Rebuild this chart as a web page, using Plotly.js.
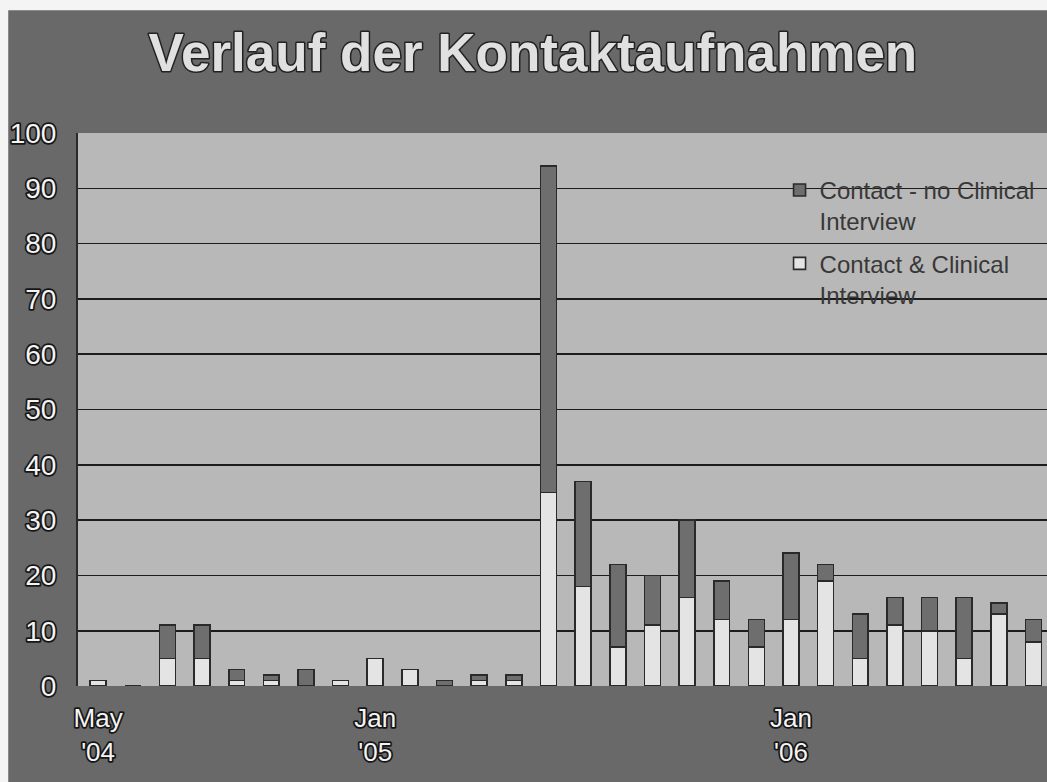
<!DOCTYPE html>
<html>
<head>
<meta charset="utf-8">
<script src="https://cdn.plot.ly/plotly-3.0.1.min.js"></script>
<style>
  html, body { margin: 0; padding: 0; background: #696969; }
  #chart { width: 1047px; height: 782px; }
  #chart .xtick text, #chart .ytick text {
    paint-order: stroke; stroke: #161616; stroke-width: 3.5px; stroke-linejoin: round;
  }
  #chart .gtitle {
    paint-order: stroke; stroke: #222222; stroke-width: 3px; stroke-linejoin: round;
  }
</style>
</head>
<body>
<div id="chart"></div>
<script>
// Months May 2004 – Aug 2006
var months = ["2004-05","2004-06","2004-07","2004-08","2004-09","2004-10","2004-11","2004-12",
              "2005-01","2005-02","2005-03","2005-04","2005-05","2005-06","2005-07","2005-08",
              "2005-09","2005-10","2005-11","2005-12","2006-01","2006-02","2006-03","2006-04",
              "2006-05","2006-06","2006-07","2006-08"];

// Contact & Clinical Interview (white, bottom segment)
var contactClinical = [1,0,5,5,1,1,0,1, 5,3,0,1,1,35,18,7, 11,16,12,7,12,19,5,11, 10,5,13,8];

// Contact - no Clinical Interview (dark, top segment)
var contactNoClinical = [0,0,6,6,2,1,3,0, 0,0,1,1,1,59,19,15, 9,14,7,5,12,3,8,5, 6,11,2,4];

var tickMonths = ["2004-05","2005-01","2006-01"];
var tickLabels = ["May<br>'04","Jan<br>'05","Jan<br>'06"];

var seriesNames = ["Contact & Clinical<br>Interview", "Contact - no Clinical<br>Interview"];

var outline = "#2a2a2a";
var sans = "'Liberation Sans', Arial, sans-serif";

var traces = [
  {
    type: "bar",
    name: seriesNames[0],
    legendgroup: "g1",
    legendrank: 2,
    x: months,
    y: contactClinical,
    marker: { color: "#e4e4e4", line: { color: outline, width: 1.6 } },
    hoverinfo: "x+y+name"
  },
  {
    type: "bar",
    name: seriesNames[1],
    legendgroup: "g2",
    legendrank: 1,
    x: months,
    y: contactNoClinical,
    marker: { color: "#6e6e6e", line: { color: outline, width: 1.6 } },
    hoverinfo: "x+y+name"
  }
];

var layout = {
  width: 1047,
  height: 782,
  paper_bgcolor: "#696969",
  plot_bgcolor: "#b8b8b8",
  barmode: "stack",
  bargap: 0.54,
  margin: { l: 78, r: 0, t: 133, b: 96, pad: 0 },
  title: {
    text: "Verlauf der Kontaktaufnahmen",
    xref: "container", yref: "container",
    x: 0.509, y: 0.933, xanchor: "center", yanchor: "middle",
    font: { family: sans, size: 53, weight: "bold", color: "#e0e0e0" }
  },
  xaxis: {
    type: "category",
    range: [-0.58, 27.39],
    tickmode: "array",
    tickvals: tickMonths,
    ticktext: tickLabels,
    ticks: "",
    showgrid: false,
    zeroline: false,
    showline: false,
    ticklabelstandoff: 14,
    tickfont: { family: sans, size: 26, color: "#f4f4f4" }
  },
  yaxis: {
    range: [0, 100],
    tickvals: [0,10,20,30,40,50,60,70,80,90,100],
    ticks: "",
    showgrid: true,
    gridcolor: "#1c1c1c",
    gridwidth: 1.6,
    zeroline: false,
    showline: true,
    linecolor: "#2a2a2a",
    linewidth: 2,
    ticklabelstandoff: 14,
    tickfont: { family: sans, size: 28, color: "#f4f4f4" }
  },
  legend: {
    x: 0.724, y: 0.937, xanchor: "left", yanchor: "top",
    bgcolor: "rgba(0,0,0,0)",
    borderwidth: 0,
    traceorder: "grouped",
    tracegroupgap: 8,
    valign: "top",
    font: { family: sans, size: 24, color: "#383838" },
    itemwidth: 30
  },
  showlegend: true,
  shapes: [
    // plot-coloured panel behind the legend (hides the grid lines there)
    { type: "rect", xref: "paper", yref: "paper", x0: 0.711, x1: 1.0, y0: 0.66, y1: 0.94,
      fillcolor: "#b8b8b8", line: { width: 0 }, layer: "between" },
    // scan margins
    { type: "rect", xref: "paper", yref: "paper", x0: -0.09, x1: -0.072, y0: -0.25, y1: 1.3,
      fillcolor: "#f4f4f4", line: { width: 0 }, layer: "above" },
    { type: "rect", xref: "paper", yref: "paper", x0: -0.1, x1: 1.05, y0: 1.222, y1: 1.3,
      fillcolor: "#f4f4f4", line: { width: 0 }, layer: "above" }
  ]
};

Plotly.newPlot("chart", traces, layout, { displayModeBar: false, staticPlot: true });
</script>
</body>
</html>
